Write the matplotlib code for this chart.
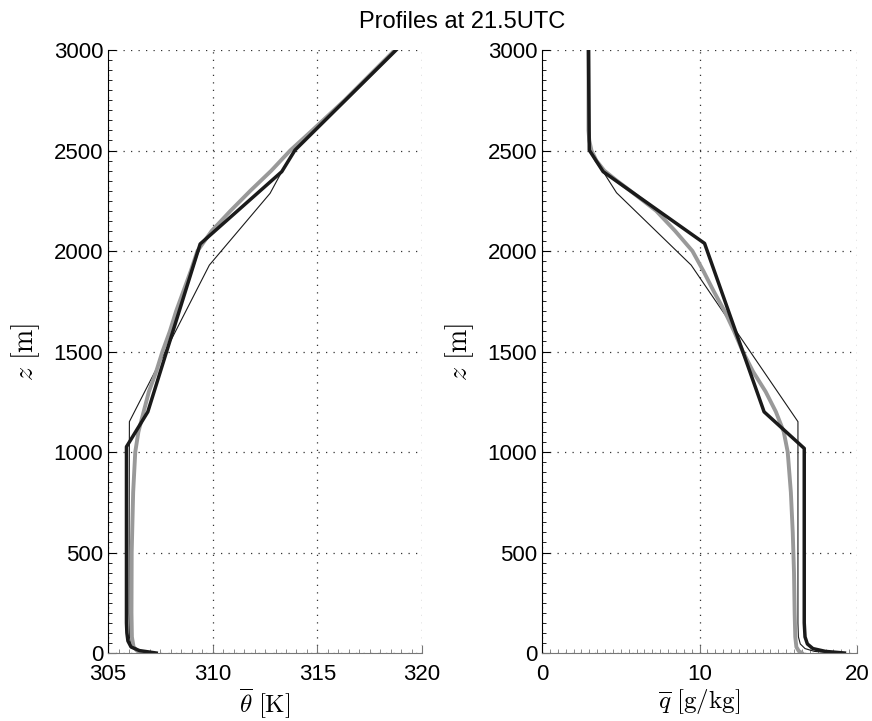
import matplotlib
matplotlib.use('Agg')
import matplotlib.pyplot as plt
from matplotlib.ticker import MultipleLocator

plt.rcParams['font.family'] = ['Liberation Sans', 'DejaVu Sans']
plt.rcParams['mathtext.fontset'] = 'cm'

# theta profiles (K) vs height (m)
th_black = [307.3, 306.5, 306.1, 305.95, 305.9, 305.88, 305.88, 306.9, 309.4, 313.3, 313.93, 318.76]
z_th_black = [0, 12, 30, 60, 100, 150, 1026, 1200, 2035, 2395, 2502, 3000]
th_thin = [307.2, 306.4, 306.1, 306.02, 306.0, 306.02, 309.84, 312.74, 313.3, 313.93, 318.76]
z_th_thin = [0, 12, 35, 80, 200, 1151, 1930, 2287, 2395, 2502, 3000]
th_gray = [306.8, 306.4, 306.22, 306.14, 306.12, 306.13, 306.2, 306.3, 306.45, 306.7,
           306.95, 307.3, 307.6, 307.95, 308.25, 308.6, 308.95, 309.27, 309.95, 310.85,
           311.8, 312.8, 313.7, 314.75, 316.3, 318.7]
z_th_gray = [0, 10, 30, 80, 200, 500, 800, 1000, 1100, 1200,
             1300, 1400, 1500, 1600, 1700, 1800, 1900, 2000, 2100, 2200,
             2300, 2400, 2500, 2600, 2750, 3000]

# specific humidity profiles (g/kg) vs height (m)
q_black = [19.2, 18.0, 17.2, 16.85, 16.7, 16.65, 16.65, 14.1, 10.32, 3.88, 3.0, 2.95]
z_q_black = [0, 8, 22, 45, 80, 150, 1018, 1200, 2038, 2395, 2502, 3000]
q_thin = [18.5, 17.3, 16.7, 16.4, 16.28, 16.25, 16.25, 9.47, 4.73, 3.88, 3.0, 2.95]
z_q_thin = [0, 8, 22, 45, 80, 150, 1151, 1930, 2290, 2395, 2502, 3000]
q_gray = [16.5, 16.3, 16.15, 16.08, 16.04, 16.0, 15.92, 15.8, 15.6, 15.35, 14.85,
          14.2, 13.4, 12.75, 12.2, 11.6, 10.9, 10.25, 9.55, 8.45, 7.25,
          5.6, 4.75, 3.95, 3.45, 3.14, 3.0, 2.95, 2.95]
z_q_gray = [0, 10, 30, 80, 200, 400, 600, 800, 1000, 1100, 1200,
            1300, 1400, 1500, 1600, 1700, 1800, 1900, 2000, 2100, 2200,
            2300, 2350, 2400, 2450, 2500, 2550, 2600, 3000]

fig = plt.figure(figsize=(8.72, 7.21), dpi=100)
ax1 = fig.add_axes([0.1239, 0.0943, 0.3601, 0.8363])
ax2 = fig.add_axes([0.6216, 0.0943, 0.3612, 0.8363])


def style(ax, xlim, xmajor, xminor):
    ax.set_xlim(*xlim)
    ax.set_ylim(0, 3000)
    ax.xaxis.set_major_locator(MultipleLocator(xmajor))
    ax.xaxis.set_minor_locator(MultipleLocator(xminor))
    ax.yaxis.set_major_locator(MultipleLocator(500))
    ax.yaxis.set_minor_locator(MultipleLocator(50))
    ax.tick_params(which='both', direction='in', labelsize=16)
    ax.tick_params(which='major', length=6, width=0.8)
    ax.tick_params(which='minor', length=3, width=0.6)
    ax.tick_params(axis='x', which='both', color='#777777', pad=8)
    ax.spines['top'].set_visible(False)
    ax.spines['right'].set_visible(False)
    ax.spines['bottom'].set_color('#777777')
    ax.grid(True, which='major', linestyle=(0, (1, 5)), color='#333333', linewidth=0.9)
    ax.set_axisbelow(True)
    ax.set_ylabel(r'$z\ [\mathrm{m}]$', fontsize=20, labelpad=8)


ax1.plot(th_thin, z_th_thin, color='#1a1a1a', lw=0.8)
ax1.plot(th_gray, z_th_gray, color='#999999', lw=2.8)
ax1.plot(th_black, z_th_black, color='#1a1a1a', lw=2.5)
style(ax1, (305, 320), 5, 0.5)
ax1.set_xlabel(r'$\overline{\theta}\ [\mathrm{K}]$', fontsize=18, labelpad=1)

ax2.plot(q_thin, z_q_thin, color='#1a1a1a', lw=0.8)
ax2.plot(q_gray, z_q_gray, color='#999999', lw=2.8)
ax2.plot(q_black, z_q_black, color='#1a1a1a', lw=2.5)
style(ax2, (0, 20), 10, 0.5)
ax2.set_xlabel(r'$\overline{q}\ [\mathrm{g/kg}]$', fontsize=18, labelpad=1)

fig.text(0.53, 0.969, 'Profiles at 21.5UTC', ha='center', va='center', fontsize=17)

fig.savefig('out.png', dpi=100)
